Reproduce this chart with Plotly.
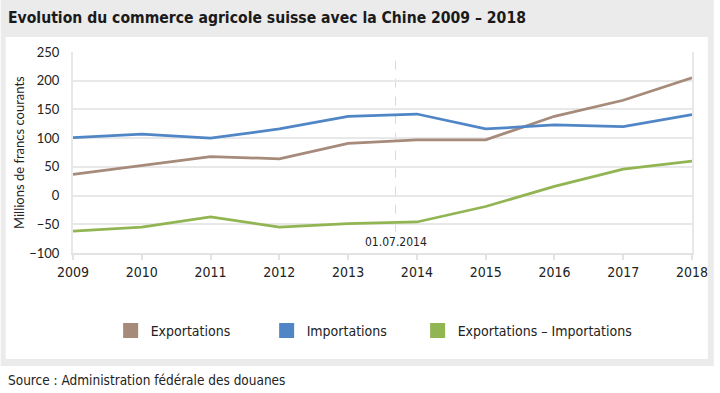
import plotly.graph_objects as go

years = [2009, 2010, 2011, 2012, 2013, 2014, 2015, 2016, 2017, 2018]
exportations = [37, 53, 68, 64, 91, 97, 97, 138, 166, 205]
importations = [101, 107, 100, 116, 138, 142, 116, 123, 120, 141]
solde = [-62, -55, -37, -55, -49, -46, -19, 16, 46, 60]

series_names = ["Exportations", "Importations", "Exportations – Importations"]
series_colors = ["#a68a7a", "#5186c6", "#92b553"]
legend_widths = [111, 106, 200]
y_ticks = [-100, -50, 0, 50, 100, 150, 200, 250]
fta_x = 2013.69
fta_label = "01.07.2014"

title_text = "Evolution du commerce agricole suisse avec la Chine 2009 – 2018"
source_text = "Source : Administration fédérale des douanes"
y_title = "Millions de francs courants"

W, H = 720, 393
L, R, T, B = 73, 22, 52, 140
pw, ph = W - L - R, H - T - B

def px_x(p):
    return (p - L) / pw

def px_y(p):
    return (H - B - p) / ph

cond = "DejaVu Sans Condensed, Liberation Sans Narrow, Roboto, sans-serif"
calib = "Lato, Open Sans, sans-serif"

fig = go.Figure()
for vals, name, col in zip([exportations, importations, solde], series_names, series_colors):
    fig.add_trace(go.Scatter(x=years, y=vals, mode="lines", name=name,
                             line=dict(color=col, width=2.75), showlegend=False))
for name, col, lw in zip(series_names, series_colors, legend_widths):
    fig.add_trace(go.Scatter(x=[None], y=[None], mode="markers", name=name, legendwidth=lw,
                             marker=dict(symbol="square", size=15, color=col)))

fig.update_layout(
    width=W, height=H,
    margin=dict(l=L, r=R, t=T, b=B),
    paper_bgcolor="white", plot_bgcolor="white",
    showlegend=True,
    legend=dict(orientation="h", x=px_x(111), xanchor="left", y=px_y(331), yanchor="middle",
                font=dict(family=cond, size=14, color="#222"), bgcolor="rgba(0,0,0,0)"),
    title=dict(text=title_text, xref="container", yref="container", x=8 / W, xanchor="left",
               y=1 - 18 / H, yanchor="middle",
               font=dict(family=cond, size=15.6, color="#1a1a1a", weight="bold")),
    xaxis=dict(range=[years[0], years[-1]], tickmode="array", tickvals=years,
               ticktext=[str(y) for y in years], showgrid=False, zeroline=False,
               showline=True, linecolor="#e3e3e3", linewidth=2,
               ticks="outside", ticklen=5, tickcolor="#e3e3e3", tickwidth=2,
               tickfont=dict(family=cond, size=14, color="#222")),
    yaxis=dict(range=[y_ticks[0], y_ticks[-1]], tickmode="array", tickvals=y_ticks,
               showgrid=True, gridcolor="#e8e8e8", gridwidth=2, zeroline=False,
               showline=True, linecolor="#e8e8e8", linewidth=2, mirror=True,
               ticks="", ticklabelstandoff=9,
               tickfont=dict(family=calib, size=13, color="#222")),
    shapes=[
        dict(type="rect", xref="paper", yref="paper", x0=px_x(0), x1=px_x(W), y0=px_y(366), y1=px_y(0),
             fillcolor="#ebebeb", line=dict(width=0), layer="below"),
        dict(type="rect", xref="paper", yref="paper", x0=px_x(5), x1=px_x(714), y0=px_y(359), y1=px_y(37),
             fillcolor="white", line=dict(width=0), layer="below"),
        dict(type="line", xref="x", yref="y", x0=fta_x, x1=fta_x, y0=-63, y1=260,
             line=dict(color="#d8d8d8", width=1, dash="dash"), layer="below"),
    ],
    annotations=[
        dict(text=fta_label, x=fta_x, y=-80, xref="x", yref="y", showarrow=False,
             font=dict(family=cond, size=12, color="#222")),
        dict(text=y_title, x=px_x(18), y=0.5, xref="paper", yref="paper", showarrow=False,
             xanchor="center", yanchor="middle",
             textangle=-90, font=dict(family=calib, size=13, color="#222")),
        dict(text=source_text, x=px_x(5), y=px_y(380), xref="paper", yref="paper",
             xanchor="left", yanchor="middle", showarrow=False,
             font=dict(family=cond, size=13.5, color="#222")),
    ],
)

fig.write_html("out.html", config={"displayModeBar": False},
               post_script="document.body.style.margin='0px';document.body.style.overflow='hidden';")
